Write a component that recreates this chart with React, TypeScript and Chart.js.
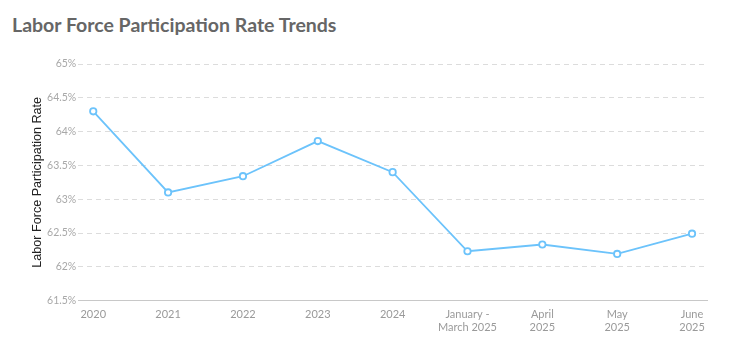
import React, { useEffect, useRef } from "react";
import { Chart, registerables } from "chart.js";

Chart.register(...registerables);

const categories: (string | string[])[] = [
  "2020",
  "2021",
  "2022",
  "2023",
  "2024",
  ["January -", "March 2025"],
  ["April", "2025"],
  ["May", "2025"],
  ["June", "2025"],
];
const rates = [64.3, 63.1, 63.34, 63.86, 63.4, 62.23, 62.33, 62.19, 62.49];
const yMin = 61.5;
const yMax = 65;
const yStep = 0.5;
const title = "Labor Force Participation Rate Trends";
const yTitle = "Labor Force Participation Rate";

export default function App() {
  const ref = useRef<HTMLCanvasElement | null>(null);
  useEffect(() => {
    if (!ref.current) return;
    const chart = new Chart(ref.current, {
      type: "line",
      data: {
        datasets: [
          {
            data: rates.map((v, i) => ({ x: i, y: v })),
            borderColor: "#6cc3fb",
            borderWidth: 1.8,
            pointBackgroundColor: "#ffffff",
            pointBorderColor: "#6cc3fb",
            pointBorderWidth: 1.8,
            pointRadius: 3.2,
            tension: 0,
          },
        ],
      },
      options: {
        animation: false,
        responsive: false,
        maintainAspectRatio: false,
        layout: { padding: { left: 30, right: 22, top: 64, bottom: 19 } },
        plugins: { legend: { display: false }, tooltip: { enabled: false } },
        scales: {
          x: {
            type: "linear",
            min: -0.2,
            max: categories.length - 1 + 0.2,
            afterBuildTicks: (axis: any) => {
              axis.ticks = categories.map((_, i) => ({ value: i }));
            },
            grid: { display: false, drawTicks: false },
            border: { display: true, color: "#c8c8c8", width: 1 },
            ticks: {
              autoSkip: false,
              maxRotation: 0,
              padding: 7,
              color: "#9a9a9a",
              font: { family: "Lato", size: 11 },
              callback: (v: any) => categories[Math.round(Number(v))] ?? "",
            },
          },
          y: {
            min: yMin,
            max: yMax,
            ticks: {
              stepSize: yStep,
              padding: 2,
              color: "#a8a8a8",
              font: { family: "Lato", size: 10.5 },
              callback: (v: any) => `${Number(v)}%`,
            },
            grid: { color: "#dcdcdc", drawTicks: false, lineWidth: 1 },
            border: { display: false, dash: [5, 4] },
            title: {
              display: true,
              text: yTitle,
              color: "#222222",
              font: { family: "Liberation Sans", size: 12.6 },
              padding: { top: 0, bottom: 0 },
            },
          },
        },
      },
    });
    return () => chart.destroy();
  }, []);
  return (
    <div style={{ position: "fixed", left: 0, top: 0, width: 729, height: 360, background: "#fff" }}>
      <div
        style={{
          position: "absolute",
          left: 12,
          top: 13,
          fontFamily: "Lato",
          fontWeight: 700,
          fontSize: 19.5,
          color: "#666666",
          lineHeight: "24px",
          whiteSpace: "nowrap",
        }}
      >
        {title}
      </div>
      <canvas ref={ref} width={729} height={360} style={{ position: "absolute", left: 0, top: 0 }} />
    </div>
  );
}
